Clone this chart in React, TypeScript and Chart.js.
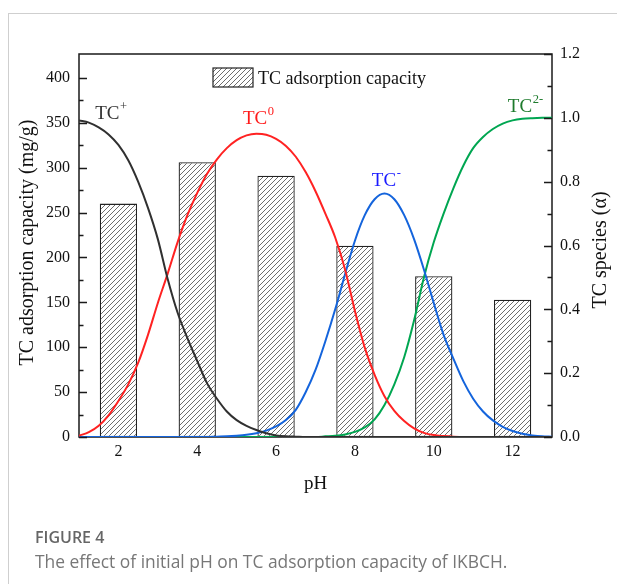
import React, { useEffect, useRef } from 'react';
import { Chart, registerables } from 'chart.js';

Chart.register(...registerables);

// ---- data ----
const BAR_PH = [2, 4, 6, 8, 10, 12];
const CAPACITY = [260, 306, 291, 213, 179, 153];

const CURVE_PH = [
  1, 1.25, 1.5, 1.75, 2, 2.25, 2.5, 2.75, 3, 3.25, 3.5, 3.75, 4, 4.25, 4.5, 4.75,
  5, 5.25, 5.5, 5.75, 6, 6.25, 6.5, 6.75, 7, 7.25, 7.5, 7.75, 8, 8.25, 8.5, 8.75,
  9, 9.25, 9.5, 9.75, 10, 10.25, 10.5, 10.75, 11, 11.25, 11.5, 11.75, 12, 12.25,
  12.5, 12.75, 13,
];
const TC_PLUS = [
  0.992, 0.985, 0.97, 0.948, 0.915, 0.867, 0.8, 0.718, 0.62, 0.495, 0.39, 0.31,
  0.238, 0.168, 0.12, 0.08, 0.053, 0.035, 0.022, 0.012, 0.005, 0.002, 0.001,
  0, 0, 0, 0, 0, 0, 0, 0, 0, 0, 0, 0, 0, 0, 0, 0, 0, 0, 0, 0, 0, 0, 0, 0, 0, 0,
];
const TC_ZERO = [
  0.004, 0.015, 0.035, 0.068, 0.113, 0.165, 0.232, 0.32, 0.42, 0.512, 0.61, 0.695,
  0.765, 0.825, 0.87, 0.905, 0.93, 0.945, 0.95, 0.947, 0.934, 0.912, 0.878, 0.83,
  0.77, 0.7, 0.625, 0.525, 0.395, 0.28, 0.195, 0.128, 0.082, 0.05, 0.027, 0.013,
  0.006, 0.003, 0.001, 0, 0, 0, 0, 0, 0, 0, 0, 0, 0,
];
const TC_MINUS = [
  0, 0, 0, 0, 0, 0, 0, 0, 0, 0, 0, 0, 0, 0, 0.001, 0.002, 0.004, 0.007, 0.012,
  0.02, 0.033, 0.053, 0.085, 0.14, 0.21, 0.3, 0.4, 0.51, 0.615, 0.695, 0.745,
  0.763, 0.745, 0.695, 0.62, 0.525, 0.42, 0.32, 0.245, 0.175, 0.12, 0.08, 0.052,
  0.032, 0.019, 0.01, 0.005, 0.002, 0.001,
];
const TC_TWO_MINUS = [
  0, 0, 0, 0, 0, 0, 0, 0, 0, 0, 0, 0, 0, 0, 0, 0, 0, 0, 0, 0, 0, 0, 0, 0, 0,
  0.002, 0.004, 0.008, 0.016, 0.03, 0.055, 0.1, 0.165, 0.25, 0.365, 0.5, 0.61,
  0.7, 0.78, 0.85, 0.905, 0.94, 0.965, 0.982, 0.992, 0.997, 0.999, 1, 1,
];

const X_TICKS = [2, 4, 6, 8, 10, 12];
const LEFT_TICKS = [0, 50, 100, 150, 200, 250, 300, 350, 400];
const LEFT_MINOR = [25, 75, 125, 175, 225, 275, 325, 375];
const RIGHT_TICKS = [0, 0.2, 0.4, 0.6, 0.8, 1.0, 1.2];
const RIGHT_MINOR = [0.1, 0.3, 0.5, 0.7, 0.9, 1.1];

const LEFT_MAX = 426.67;
const RIGHT_MAX = 1.2;

const CURVE_LABELS = [
  { base: 'TC', sup: '+', ph: 1.41, alpha: 0.997, color: '#333333' },
  { base: 'TC', sup: '0', ph: 5.16, alpha: 0.981, color: '#ff1a1a' },
  { base: 'TC', sup: '-', ph: 8.43, alpha: 0.7875, color: '#1a1aff' },
  { base: 'TC', sup: '2-', ph: 11.88, alpha: 1.019, color: '#1d7a2c' },
];

const SERIF = "'Liberation Serif', 'Times New Roman', serif";

function makeHatch(): CanvasPattern | string {
  const n = 5;
  const c = document.createElement('canvas');
  c.width = n;
  c.height = n;
  const g = c.getContext('2d');
  if (!g) return '#ffffff';
  g.fillStyle = '#ffffff';
  g.fillRect(0, 0, n, n);
  g.strokeStyle = '#3c3c3c';
  g.lineWidth = 0.75;
  g.beginPath();
  g.moveTo(-1, n + 1);
  g.lineTo(n + 1, -1);
  g.moveTo(-1, 1);
  g.lineTo(1, -1);
  g.moveTo(n - 1, n + 1);
  g.lineTo(n + 1, n - 1);
  g.stroke();
  return g.createPattern(c, 'repeat') || '#ffffff';
}

function drawSup(ctx: CanvasRenderingContext2D, base: string, sup: string, x: number, y: number, color: string) {
  ctx.fillStyle = color;
  ctx.textAlign = 'left';
  ctx.textBaseline = 'alphabetic';
  ctx.font = `19px ${SERIF}`;
  ctx.fillText(base, x, y);
  const w = ctx.measureText(base).width;
  ctx.font = `12.5px ${SERIF}`;
  ctx.fillText(sup, x + w + 0.5, y - 8.5);
}

export default function App() {
  const ref = useRef<HTMLCanvasElement>(null);

  useEffect(() => {
    const canvas = ref.current;
    if (!canvas) return;
    const hatch = makeHatch();

    const decor = {
      id: 'decor',
      beforeDatasetsDraw(chart: any) {
        const { ctx, chartArea: a } = chart;
        ctx.save();
        ctx.strokeStyle = '#1a1a1a';
        ctx.lineWidth = 1.5;
        ctx.strokeRect(a.left, a.top, a.right - a.left, a.bottom - a.top);
        ctx.restore();
      },
      afterDatasetsDraw(chart: any) {
        const { ctx, chartArea: a, scales } = chart;
        const y = scales.y;
        const y2 = scales.y2;
        const x = scales.x;
        ctx.save();
        ctx.strokeStyle = '#1a1a1a';
        ctx.lineWidth = 1.3;
        ctx.beginPath();
        LEFT_TICKS.forEach((v) => {
          const p = Math.round(y.getPixelForValue(v)) + 0.5;
          ctx.moveTo(a.left, p);
          ctx.lineTo(a.left + 8, p);
        });
        LEFT_MINOR.forEach((v) => {
          const p = Math.round(y.getPixelForValue(v)) + 0.5;
          ctx.moveTo(a.left, p);
          ctx.lineTo(a.left + 4.5, p);
        });
        RIGHT_TICKS.forEach((v) => {
          const p = Math.round(y2.getPixelForValue(v)) + 0.5;
          ctx.moveTo(a.right, p);
          ctx.lineTo(a.right - 8, p);
        });
        RIGHT_MINOR.forEach((v) => {
          const p = Math.round(y2.getPixelForValue(v)) + 0.5;
          ctx.moveTo(a.right, p);
          ctx.lineTo(a.right - 4.5, p);
        });
        ctx.stroke();

        // legend
        const lx = 213, ly = 68, lw = 40, lh = 19;
        ctx.fillStyle = hatch as any;
        ctx.fillRect(lx, ly, lw, lh);
        ctx.strokeStyle = '#222222';
        ctx.lineWidth = 1.2;
        ctx.strokeRect(lx, ly, lw, lh);
        ctx.fillStyle = '#111111';
        ctx.font = `18px ${SERIF}`;
        ctx.textAlign = 'left';
        ctx.textBaseline = 'alphabetic';
        ctx.fillText('TC adsorption capacity', 258, 84);

        // curve labels
        CURVE_LABELS.forEach((l) => {
          drawSup(ctx, l.base, l.sup, x.getPixelForValue(l.ph), y2.getPixelForValue(l.alpha), l.color);
        });

        // axis titles
        ctx.fillStyle = '#111111';
        ctx.font = `20px ${SERIF}`;
        ctx.textAlign = 'center';
        ctx.textBaseline = 'middle';
        ctx.save();
        ctx.translate(28, 242.5);
        ctx.rotate(-Math.PI / 2);
        ctx.fillText('TC adsorption capacity (mg/g)', 0, 0);
        ctx.restore();
        ctx.save();
        ctx.translate(601, 250);
        ctx.rotate(-Math.PI / 2);
        ctx.fillText('TC species (\u03b1)', 0, 0);
        ctx.restore();
        ctx.textBaseline = 'alphabetic';
        ctx.font = `19px ${SERIF}`;
        ctx.fillText('pH', (a.left + a.right) / 2, 489);
        ctx.restore();
      },
    };

    const line = (label: string, values: number[], color: string) => ({
      type: 'line' as const,
      label,
      data: CURVE_PH.map((px, i) => ({ x: px, y: values[i] })),
      borderColor: color,
      borderWidth: 2,
      pointRadius: 0,
      fill: false,
      cubicInterpolationMode: 'monotone' as const,
      xAxisID: 'x',
      yAxisID: 'y2',
      order: 0,
    });

    const chart = new Chart(canvas, {
      type: 'bar',
      data: {
        datasets: [
          line('TC+', TC_PLUS, '#303030'),
          line('TC0', TC_ZERO, '#ff2222'),
          line('TC-', TC_MINUS, '#1464dc'),
          line('TC2-', TC_TWO_MINUS, '#00a651'),
          {
            type: 'bar' as const,
            label: 'TC adsorption capacity',
            data: BAR_PH.map((px, i) => ({ x: px, y: CAPACITY[i] })),
            backgroundColor: hatch as any,
            borderColor: '#222222',
            borderWidth: 1.3,
            borderSkipped: false,
            barPercentage: 0.473,
            categoryPercentage: 1,
            xAxisID: 'x',
            yAxisID: 'y',
            order: 5,
          },
        ] as any,
      },
      options: {
        responsive: false,
        animation: false,
        events: [],
        layout: { padding: { top: 54, left: 0, right: 0, bottom: 0 }, autoPadding: false },
        plugins: { legend: { display: false }, tooltip: { enabled: false }, title: { display: false } },
        scales: {
          x: {
            type: 'linear',
            position: 'bottom',
            min: 1,
            max: 13,
            offset: false,
            grid: { display: false, drawTicks: false },
            border: { display: false },
            ticks: {
              padding: 5,
              color: '#111111',
              font: { family: SERIF, size: 16 },
              callback: (v: any) => String(v),
            },
            afterBuildTicks: (s: any) => {
              s.ticks = X_TICKS.map((v) => ({ value: v }));
            },
            afterFit: (s: any) => {
              s.height = 147;
            },
          },
          y: {
            type: 'linear',
            position: 'left',
            min: 0,
            max: LEFT_MAX,
            grid: { display: false, drawTicks: false },
            border: { display: false },
            ticks: {
              padding: 9,
              color: '#111111',
              font: { family: SERIF, size: 16 },
              callback: (v: any) => String(v),
            },
            afterBuildTicks: (s: any) => {
              s.ticks = LEFT_TICKS.map((v) => ({ value: v }));
            },
            afterFit: (s: any) => {
              s.width = 79;
            },
          },
          y2: {
            type: 'linear',
            position: 'right',
            min: 0,
            max: RIGHT_MAX,
            grid: { display: false, drawTicks: false },
            border: { display: false },
            ticks: {
              padding: 8,
              color: '#111111',
              font: { family: SERIF, size: 16 },
              callback: (v: any) => Number(v).toFixed(1),
            },
            afterBuildTicks: (s: any) => {
              s.ticks = RIGHT_TICKS.map((v) => ({ value: v }));
            },
            afterFit: (s: any) => {
              s.width = 65;
            },
          },
        },
      } as any,
      plugins: [decor],
    });

    return () => chart.destroy();
  }, []);

  return (
    <div style={{ position: 'fixed', left: 0, top: 0, width: 617, height: 584, overflow: 'hidden', background: '#ffffff' }}>
      <div
        style={{
          position: 'absolute',
          left: 8,
          top: 13,
          width: 700,
          height: 700,
          borderTop: '1px solid #cfcfcf',
          borderLeft: '1px solid #cfcfcf',
        }}
      />
      <canvas ref={ref} width={617} height={584} style={{ position: 'absolute', left: 0, top: 0, width: 617, height: 584 }} />
      <div
        style={{
          position: 'absolute',
          left: 35,
          top: 527,
          font: "600 16px 'Open Sans', sans-serif",
          color: '#666666',
          lineHeight: '20px',
          whiteSpace: 'nowrap',
        }}
      >
        FIGURE 4
      </div>
      <div
        style={{
          position: 'absolute',
          left: 35,
          top: 550,
          font: "400 17.4px 'Open Sans', sans-serif",
          color: '#777777',
          lineHeight: '22px',
          whiteSpace: 'nowrap',
        }}
      >
        The effect of initial pH on TC adsorption capacity of IKBCH.
      </div>
    </div>
  );
}
